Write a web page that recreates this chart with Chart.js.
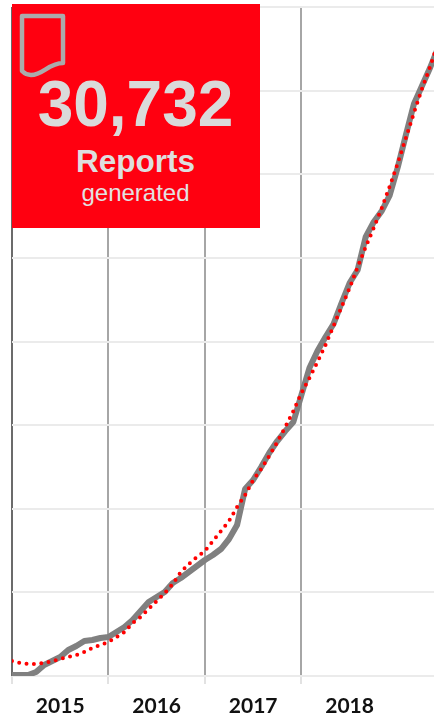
<!DOCTYPE html>
<html>
<head>
<meta charset="utf-8">
<style>
  html, body { margin: 0; padding: 0; background: #fff; overflow: hidden; }
  #wrap { position: relative; width: 434px; height: 717px; overflow: hidden; }
  #panel { position: absolute; left: 12px; top: 4px; width: 248px; height: 224px; background: #ff0010; font-family: "Liberation Sans", Arial, sans-serif; }
  #panel div { position: absolute; left: 0; width: 247px; text-align: center; white-space: nowrap; }
  #count { top: 64px; font-size: 64px; line-height: 72px; font-weight: bold; color: #dadada; }
  #what { top: 139px; font-size: 31.5px; line-height: 36px; font-weight: bold; color: #dedede; }
  #verb { top: 175px; font-size: 24px; line-height: 28px; color: #e2e2e2; }
  #panel svg { position: absolute; left: 7px; top: 9px; }
</style>
</head>
<body>
<div id="wrap">
  <!-- 10px wider than the window: ticks.padding eats that much off the right of the x scale -->
  <canvas id="chart" width="444" height="717"></canvas>
  <div id="panel">
    <svg width="48" height="66" viewBox="0 0 48 66">
      <path d="M3 3 H44 V50 C30 50 24 62 12 62 C8 62 5 60 3 58 Z" fill="none" stroke="#ababab" stroke-width="4.5" stroke-linejoin="round"/>
    </svg>
    <div id="count">30,732</div>
    <div id="what">Reports</div>
    <div id="verb">generated</div>
  </div>
</div>
<script src="https://cdn.jsdelivr.net/npm/chart.js@4"></script>
<script>
const years = ['2015', '2016', '2017', '2018'];
const reports = [48, 48, 48, 191, 526, 717, 909, 1244, 1435, 1674, 1722, 1818, 1865, 2105, 2344, 2678, 3109, 3539, 3779, 4018, 4448, 4687, 4974, 5261, 5548, 5787, 6074, 6553, 7222, 8944, 9375, 9996, 10666, 11240, 11718, 12149, 13440, 14732, 15545, 16214, 16836, 17841, 18797, 19419, 20997, 21715, 22241, 23006, 24345, 25876, 27359, 28220, 29081, 30037];
const trend = [717, 622, 574, 574, 622, 717, 813, 909, 1004, 1148, 1339, 1483, 1626, 1865, 2105, 2535, 2822, 3205, 3587, 3970, 4400, 4974, 5357, 5692, 5979, 6457, 6935, 7414, 8083, 8657, 9375, 9901, 10523, 11192, 11910, 12675, 13536, 14253, 15019, 15832, 16741, 17649, 18558, 19562, 20519, 21428, 22384, 23437, 24537, 25733, 26928, 28076, 29128, 30276];

const months = reports.map((_, i) => i);

new Chart(document.getElementById('chart'), {
  type: 'line',
  data: {
    labels: months,
    datasets: [
      {
        data: trend,
        borderColor: '#ff0000',
        borderWidth: 4,
        borderDash: [0, 7.4],
        borderCapStyle: 'round',
        pointRadius: 0,
        order: 1,
      },
      {
        data: reports,
        borderColor: '#808080',
        borderWidth: 6,
        borderJoinStyle: 'round',
        pointRadius: 0,
        order: 2,
      },
    ],
  },
  options: {
    responsive: false,
    animation: false,
    layout: { autoPadding: false, padding: { left: 12, top: 7, right: 0, bottom: 0 } },
    plugins: { legend: { display: false }, tooltip: { enabled: false } },
    scales: {
      x: {
        type: 'linear',
        min: 0,
        max: 52.5,
        afterFit: (scale) => { scale.height = 41; },
        border: { display: false },
        grid: {
          lineWidth: 2,
          tickLength: 8,
          color: (c) => {
            if (c.tick.value === 0) return '#6b6b6b';
            return c.tick.value % 12 === 0 ? '#a6a6a6' : 'rgba(0,0,0,0)';
          },
          tickColor: (c) => (c.tick.value % 12 === 0 ? '#e2e2e2' : 'rgba(0,0,0,0)'),
        },
        ticks: {
          stepSize: 6,
          autoSkip: false,
          maxRotation: 0,
          padding: 10,
          color: '#111',
          font: { family: 'Lato', size: 21, weight: 'bold' },
          callback: (v) => (v % 12 === 6 ? years[(v - 6) / 12] : ''),
        },
      },
      y: {
        min: 0,
        max: 32000,
        afterFit: (scale) => { scale.width = 0; },
        border: { display: false },
        grid: { color: '#ebebeb', lineWidth: 2, drawTicks: false },
        ticks: { display: false, stepSize: 4000 },
      },
    },
  },
});
</script>
</body>
</html>
